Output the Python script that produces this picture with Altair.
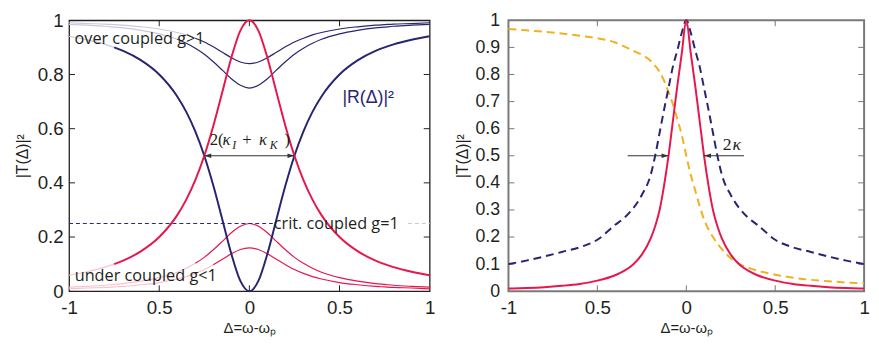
import altair as alt
import pandas as pd

# ---------------- data: left panel ----------------
XL = [-1.0, -0.9, -0.8, -0.75, -0.7, -0.6, -0.5, -0.4, -0.35, -0.3, -0.25, -0.2, -0.15, -0.1, -0.05,
      0.0, 0.05, 0.1, 0.15, 0.2, 0.25, 0.3, 0.35, 0.4, 0.5, 0.6, 0.7, 0.75, 0.8, 0.9, 1.0]
T_CRIT = [0.059, 0.072, 0.089, 0.100, 0.113, 0.148, 0.200, 0.281, 0.338, 0.410, 0.500, 0.610, 0.735, 0.862, 0.962,
          1.000, 0.962, 0.862, 0.735, 0.610, 0.500, 0.410, 0.338, 0.281, 0.200, 0.148, 0.113, 0.100, 0.089, 0.072, 0.059]
R_CRIT = [0.941, 0.928, 0.911, 0.900, 0.887, 0.852, 0.800, 0.719, 0.662, 0.590, 0.500, 0.390, 0.265, 0.138, 0.038,
          0.000, 0.038, 0.138, 0.265, 0.390, 0.500, 0.590, 0.662, 0.719, 0.800, 0.852, 0.887, 0.900, 0.911, 0.928, 0.941]
T_UNDER_A = [0.015, 0.018, 0.022, 0.025, 0.028, 0.037, 0.050, 0.070, 0.085, 0.103, 0.125, 0.153, 0.184, 0.216, 0.240,
             0.250, 0.240, 0.216, 0.184, 0.153, 0.125, 0.103, 0.085, 0.070, 0.050, 0.037, 0.028, 0.025, 0.022, 0.018, 0.015]
T_UNDER_B = [0.009, 0.012, 0.014, 0.016, 0.018, 0.024, 0.032, 0.045, 0.054, 0.066, 0.080, 0.098, 0.118, 0.138, 0.154,
             0.160, 0.154, 0.138, 0.118, 0.098, 0.080, 0.066, 0.054, 0.045, 0.032, 0.024, 0.018, 0.016, 0.014, 0.012, 0.009]
R_OVER_A = [0.985, 0.982, 0.978, 0.975, 0.972, 0.963, 0.950, 0.930, 0.915, 0.897, 0.875, 0.847, 0.816, 0.784, 0.760,
            0.750, 0.760, 0.784, 0.816, 0.847, 0.875, 0.897, 0.915, 0.930, 0.950, 0.963, 0.972, 0.975, 0.978, 0.982, 0.985]
R_OVER_B = [0.991, 0.988, 0.986, 0.984, 0.982, 0.976, 0.968, 0.955, 0.946, 0.934, 0.920, 0.902, 0.882, 0.862, 0.846,
            0.840, 0.846, 0.862, 0.882, 0.902, 0.920, 0.934, 0.946, 0.955, 0.968, 0.976, 0.982, 0.984, 0.986, 0.988, 0.991]
CRIT_LEVEL = 0.25

# ---------------- data: right panel ----------------
XR = [-1.0, -0.9, -0.8, -0.7, -0.6, -0.5, -0.4, -0.35, -0.3, -0.25, -0.2, -0.175, -0.15, -0.125, -0.1, -0.075, -0.05, -0.025,
      0.0, 0.025, 0.05, 0.075, 0.1, 0.125, 0.15, 0.175, 0.2, 0.25, 0.3, 0.35, 0.4, 0.5, 0.6, 0.7, 0.8, 0.9, 1.0]
RED_R = [0.010, 0.012, 0.015, 0.020, 0.027, 0.039, 0.059, 0.075, 0.098, 0.135, 0.195, 0.240, 0.300, 0.390, 0.500, 0.630, 0.760, 0.880,
         1.000, 0.880, 0.760, 0.630, 0.500, 0.390, 0.300, 0.240, 0.195, 0.135, 0.098, 0.075, 0.059, 0.039, 0.027, 0.020, 0.015, 0.012, 0.010]
BLUE_R = [0.100, 0.113, 0.128, 0.145, 0.162, 0.190, 0.245, 0.270, 0.305, 0.355, 0.430, 0.500, 0.585, 0.670, 0.750, 0.830, 0.890, 0.955,
          1.000, 0.955, 0.890, 0.830, 0.750, 0.670, 0.585, 0.500, 0.430, 0.355, 0.305, 0.270, 0.245, 0.190, 0.162, 0.145, 0.128, 0.113, 0.100]
ORANGE_R = [0.968, 0.963, 0.958, 0.951, 0.943, 0.934, 0.918, 0.904, 0.888, 0.873, 0.850, 0.832, 0.810, 0.777, 0.735, 0.690, 0.635, 0.575,
            0.500, 0.430, 0.373, 0.315, 0.265, 0.228, 0.200, 0.176, 0.155, 0.122, 0.100, 0.086, 0.076, 0.061, 0.050, 0.042, 0.037, 0.032, 0.029]

X_TICKS = [-1, -0.5, 0, 0.5, 1]
X_TICK_LABELS = ["-1", "0.5", "0", "0.5", "1"]
Y_TICKS_L = [0, 0.2, 0.4, 0.6, 0.8, 1]
Y_TICKS_R = [0, 0.1, 0.2, 0.3, 0.4, 0.5, 0.6, 0.7, 0.8, 0.9, 1]

NAVY = "#27256f"
RED = "#e6174d"
ORANGE = "#f1b11f"
NAVY_F = "#c9c9de"
RED_F = "#f8c3cf"
INK = "#231f20"

W, H = 366, 275
WR = 361

label_expr = "[" + ",".join("'%s'" % s for s in X_TICK_LABELS) + "][indexof([" + ",".join(str(v) for v in X_TICKS) + "], datum.value)]"


def xenc(field="x"):
    return alt.X(field + ":Q", scale=alt.Scale(domain=[-1, 1], nice=False, zero=False),
                 axis=alt.Axis(values=X_TICKS, labelExpr=label_expr, title="Δ=ω-ωₚ", ticks=False, tickSize=0,
                               domain=False, grid=False, labelPadding=8, titlePadding=3, labelFontSize=19,
                               titleFontSize=15, labelFlush=False, labelOverlap=False))


def yenc(ticks, ext, lpad, tpad, lsize, field="y"):
    return alt.Y(field + ":Q", scale=alt.Scale(domain=[0, 1], nice=False, zero=False),
                 axis=alt.Axis(values=ticks, format="~g", title="|T(Δ)|²", ticks=False, tickSize=0, domain=False,
                               grid=False, labelPadding=lpad, titlePadding=tpad, labelFontSize=lsize,
                               titleFontSize=16, minExtent=ext, maxExtent=ext, labelFlush=False,
                               labelOverlap=False))


def tick_layers(yticks, w, color, ylay):
    xt = pd.DataFrame({"x": [v for v in X_TICKS if -1 < v < 1]})
    yt = pd.DataFrame({"y": [v for v in yticks if 0 < v < 1]})
    base_x = alt.Chart(xt).mark_rule(color=color, strokeWidth=1)
    base_y = alt.Chart(yt).mark_rule(color=color, strokeWidth=1)
    return [
        base_x.encode(x=xenc(), y=alt.value(H), y2=alt.value(H - 6)),
        base_x.encode(x=xenc(), y=alt.value(0), y2=alt.value(6)),
        base_y.encode(y=ylay, x=alt.value(0), x2=alt.value(6)),
        base_y.encode(y=ylay, x=alt.value(w - 6), x2=alt.value(w)),
    ]


# ---------------- left panel ----------------
SERIES_L = [
    ("r_over_b", R_OVER_B, "navy1", -0.3, "navyF"),
    ("r_over_a", R_OVER_A, "navy1", -0.4, "navyF"),
    ("t_under_a", T_UNDER_A, "red1", -0.3, "redF"),
    ("t_under_b", T_UNDER_B, "red1", -0.2, "redF"),
    ("r_crit", R_CRIT, "navy2", -0.75, "navyF"),
    ("t_crit", T_CRIT, "red2", -0.75, "redF"),
]
rows = []
for name, vals, style, fade_end, fstyle in SERIES_L:
    for x, v in zip(XL, vals):
        if x <= fade_end:
            rows.append({"x": x, "y": v, "key": name + "_f", "style": fstyle})
        if x >= fade_end:
            rows.append({"x": x, "y": v, "key": name, "style": style})
df_l = pd.DataFrame(rows)

STYLES = [("navyF", NAVY_F, 1.2), ("redF", RED_F, 1.2), ("navy1", NAVY, 1.2), ("red1", RED, 1.2),
          ("navy2", NAVY, 2.0), ("red2", RED, 2.0)]

ylay_l = yenc(Y_TICKS_L, 31, 6, 8, 19)

lines_l = [
    alt.Chart(df_l[df_l["style"] == st]).mark_line(interpolate="monotone", color=col, strokeWidth=sw).encode(
        x=xenc(), y=ylay_l, detail="key:N")
    for st, col, sw in STYLES
]

dash_dark = alt.Chart(pd.DataFrame({"x": [-1.0], "x2": [0.13], "y": [CRIT_LEVEL]})).mark_rule(
    strokeDash=[4, 3], strokeWidth=1, color=NAVY).encode(x=xenc(), x2="x2:Q", y=ylay_l)
dash_light = alt.Chart(pd.DataFrame({"x": [0.88], "x2": [1.0], "y": [CRIT_LEVEL]})).mark_rule(
    strokeDash=[4, 3], strokeWidth=1, color="#c8c8dc").encode(x=xenc(), x2="x2:Q", y=ylay_l)

arrow_l = alt.Chart(pd.DataFrame({"x": [-0.25], "x2": [0.25], "y": [0.5]})).mark_rule(
    color="#333333", strokeWidth=1.2).encode(x=xenc(), x2="x2:Q", y=ylay_l)
RIGHT_HEAD = "M 0 0 L -1 -0.32 L -1 0.32 Z"
LEFT_HEAD = "M 0 0 L 1 -0.32 L 1 0.32 Z"
heads_l = [
    alt.Chart(pd.DataFrame({"x": [-0.25], "y": [0.5]})).mark_point(
        shape=LEFT_HEAD, filled=True, size=200, color="#333333", opacity=1).encode(x=xenc(), y=ylay_l),
    alt.Chart(pd.DataFrame({"x": [0.25], "y": [0.5]})).mark_point(
        shape=RIGHT_HEAD, filled=True, size=200, color="#333333", opacity=1).encode(x=xenc(), y=ylay_l),
]

LABELS_L = pd.DataFrame({
    "x": [-0.97, 0.135, -0.969],
    "y": [0.912, 0.228, 0.037],
    "text": ["over coupled g>1", "crit. coupled g=1", "under coupled g<1"],
})
text_l = alt.Chart(LABELS_L).mark_text(align="left", baseline="alphabetic", font="Open Sans", fontSize=16.5,
                                       color=INK).encode(x=xenc(), y=ylay_l, text="text:N")
r_label = alt.Chart(pd.DataFrame({"x": [0.516], "y": [0.696], "text": ["|R(Δ)|²"]})).mark_text(
    align="left", baseline="alphabetic", font="Liberation Sans", fontSize=18, color=NAVY).encode(
    x=xenc(), y=ylay_l, text="text:N")

MATH_ANCHOR = pd.DataFrame({"x": [-0.22], "y": [0.539]})
MATH_PIECES = [("2(", 0, 0, 17, "normal"), ("κ", 13, 0, 17, "italic"), ("I", 23, 4, 12, "italic"),
               ("+", 33, 0, 17, "normal"), ("κ", 50, 0, 17, "italic"), ("K", 61, 4, 12, "italic"),
               (")", 76, 0, 17, "normal")]
math_l = [alt.Chart(MATH_ANCHOR).mark_text(align="left", baseline="alphabetic", font="Liberation Serif",
                                            fontSize=s, fontStyle=st, dx=dx, dy=dy, color=INK, text=t).encode(
    x=xenc(), y=ylay_l) for t, dx, dy, s, st in MATH_PIECES]

left = alt.layer(
    *tick_layers(Y_TICKS_L, W, INK, ylay_l),
    *lines_l, dash_dark, dash_light, arrow_l, *heads_l, text_l, r_label, *math_l,
).properties(width=W, height=H, view=alt.ViewBackground(stroke=INK, strokeWidth=1.3))

# ---------------- right panel ----------------
ylay_r = yenc(Y_TICKS_R, 30, 9, 9, 18)
orange_r = alt.Chart(pd.DataFrame({"x": XR, "y": ORANGE_R})).mark_line(
    interpolate="monotone", strokeDash=[8, 5], strokeWidth=2, color=ORANGE).encode(x=xenc(), y=ylay_r)
blue_r = alt.Chart(pd.DataFrame({"x": XR, "y": BLUE_R})).mark_line(
    interpolate="monotone", strokeDash=[8, 5], strokeWidth=2, color=NAVY).encode(x=xenc(), y=ylay_r)
red_r = alt.Chart(pd.DataFrame({"x": XR, "y": RED_R})).mark_line(
    interpolate="monotone", strokeWidth=2, color=RED).encode(x=xenc(), y=ylay_r)

arrow_r = alt.Chart(pd.DataFrame({"x": [-0.33, 0.1], "x2": [-0.1, 0.325], "y": [0.5, 0.5]})).mark_rule(
    color="#333333", strokeWidth=1.2).encode(x=xenc(), x2="x2:Q", y=ylay_r)
heads_r = [
    alt.Chart(pd.DataFrame({"x": [-0.1], "y": [0.5]})).mark_point(
        shape=RIGHT_HEAD, filled=True, size=200, color="#333333", opacity=1).encode(x=xenc(), y=ylay_r),
    alt.Chart(pd.DataFrame({"x": [0.1], "y": [0.5]})).mark_point(
        shape=LEFT_HEAD, filled=True, size=200, color="#333333", opacity=1).encode(x=xenc(), y=ylay_r),
]
K_ANCHOR = pd.DataFrame({"x": [0.205], "y": [0.523]})
k_label = [
    alt.Chart(K_ANCHOR).mark_text(align="left", baseline="alphabetic", font="Liberation Serif", fontSize=18,
                                  color=INK, text="2").encode(x=xenc(), y=ylay_r),
    alt.Chart(K_ANCHOR).mark_text(align="left", baseline="alphabetic", font="Liberation Serif", fontSize=18,
                                  fontStyle="italic", dx=10, color=INK, text="κ").encode(x=xenc(), y=ylay_r),
]

right = alt.layer(
    *tick_layers(Y_TICKS_R, WR, "#777777", ylay_r),
    orange_r, blue_r, red_r, arrow_r, *heads_r, *k_label,
).properties(width=WR, height=H, view=alt.ViewBackground(stroke="#7a7a7a", strokeWidth=2))

chart = alt.hconcat(left, right, spacing=18).properties(
    padding={"left": 6, "top": 0, "right": 0, "bottom": 0}
).configure_axis(
    labelFont="Liberation Sans", titleFont="Liberation Sans", labelColor=INK, titleColor=INK,
    titleFontWeight="normal"
).configure_view(stroke=None)

chart.save("out.html", embed_options={"renderer": "svg", "actions": False})
